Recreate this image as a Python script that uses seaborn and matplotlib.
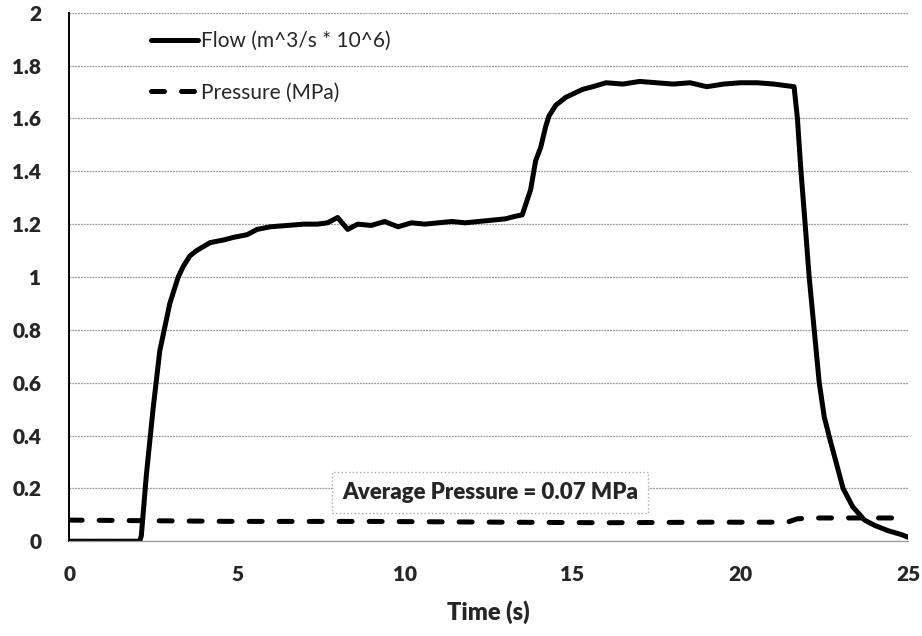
import matplotlib
matplotlib.use("Agg")
import matplotlib.pyplot as plt
import seaborn as sns
import pandas as pd

# ---- data ----
flow_time = [0, 2.1, 2.15, 2.3, 2.5, 2.7, 2.85, 3.0, 3.25, 3.4, 3.6, 3.8, 4.2, 4.6, 4.9,
             5.3, 5.6, 6.0, 6.5, 7.0, 7.4, 7.7, 8.0, 8.3, 8.6, 9.0, 9.4, 9.8, 10.2, 10.6,
             11.0, 11.4, 11.8, 12.2, 12.6, 13.0, 13.3, 13.5, 13.75, 13.9, 14.05, 14.2,
             14.3, 14.5, 14.8, 15.3, 15.6, 16.0, 16.5, 17.0, 17.5, 18.0, 18.5, 19.0, 19.5,
             20.0, 20.5, 21.0, 21.3, 21.6, 21.7, 21.8, 21.93, 22.05, 22.2, 22.35, 22.5,
             22.68, 22.85, 23.06, 23.35, 23.7, 24.0, 24.4, 24.8, 25.0]
flow_value = [0, 0, 0.02, 0.25, 0.5, 0.72, 0.81, 0.9, 1.0, 1.04, 1.08, 1.10, 1.13, 1.14, 1.15,
              1.16, 1.18, 1.19, 1.195, 1.2, 1.2, 1.205, 1.225, 1.18, 1.2, 1.195, 1.21, 1.19,
              1.205, 1.2, 1.205, 1.21, 1.205, 1.21, 1.215, 1.22, 1.23, 1.235, 1.33, 1.44,
              1.49, 1.57, 1.61, 1.65, 1.68, 1.71, 1.72, 1.735, 1.73, 1.74, 1.735, 1.73,
              1.735, 1.72, 1.73, 1.735, 1.735, 1.73, 1.725, 1.72, 1.6, 1.41, 1.2, 1.0, 0.8,
              0.6, 0.47, 0.38, 0.3, 0.2, 0.13, 0.08, 0.06, 0.04, 0.025, 0.015]

pressure_time = [0, 2.0, 5.0, 9.0, 13.0, 16.0, 19.0, 21.4, 21.7, 22.2, 25.0]
pressure_value = [0.08, 0.078, 0.075, 0.075, 0.072, 0.07, 0.072, 0.072, 0.085, 0.088, 0.088]

flow_label = "Flow (m^3/s * 10^6)"
pressure_label = "Pressure (MPa)"
note_text = "Average Pressure = 0.07 MPa"
x_ticks = [0, 5, 10, 15, 20, 25]
y_ticks = [0, 0.2, 0.4, 0.6, 0.8, 1, 1.2, 1.4, 1.6, 1.8, 2]
y_tick_labels = ["0", "0.2", "0.4", "0.6", "0.8", "1", "1.2", "1.4", "1.6", "1.8", "2"]

flow_df = pd.DataFrame({"Time": flow_time, "Value": flow_value})
pres_df = pd.DataFrame({"Time": pressure_time, "Value": pressure_value})

sns.set_style("white")
plt.rcParams["font.family"] = ["Lato", "DejaVu Sans"]

fig = plt.figure(figsize=(9.22, 6.36), dpi=100)
ax = fig.add_axes([0.075, 0.149, 0.910, 0.831])

sns.lineplot(data=flow_df, x="Time", y="Value", ax=ax, color="black", linewidth=3.6,
             label=flow_label, sort=False, estimator=None)
sns.lineplot(data=pres_df, x="Time", y="Value", ax=ax, color="black", linewidth=3.6,
             label=pressure_label, sort=False, estimator=None)
ax.lines[1].set_dashes([2.6, 3.4])
ax.lines[1].set_dash_capstyle("round")

ax.set_xlim(0, 25)
ax.set_ylim(0, 2)
ax.set_xticks(x_ticks)
ax.set_xticklabels([str(v) for v in x_ticks], fontsize=15, fontweight="heavy")
ax.set_yticks(y_ticks)
ax.set_yticklabels(y_tick_labels, fontsize=15, fontweight="heavy")
ax.tick_params(axis="y", length=0, pad=20)
ax.tick_params(axis="x", length=5, width=0.8, color="#888888", direction="out", pad=12)

ax.yaxis.grid(True, color="#9a9a9a", linestyle=(0, (1.5, 0.8)), linewidth=0.9)
ax.xaxis.grid(False)
for s in ["top", "right"]:
    ax.spines[s].set_visible(False)
ax.spines["left"].set_color("black")
ax.spines["left"].set_linewidth(1.4)
ax.spines["bottom"].set_color("#9a9a9a")
ax.spines["bottom"].set_linestyle((0, (1.5, 0.8)))
ax.spines["bottom"].set_linewidth(0.9)

ax.set_xlabel("Time (s)", fontsize=17, fontweight="heavy", labelpad=12)
ax.set_ylabel("")

ax.text(12.55, 0.186, note_text, ha="center", va="center", fontsize=16, fontweight="heavy",
        bbox=dict(facecolor="white", edgecolor="#aaaaaa", linestyle=":", linewidth=1.0,
                  boxstyle="square,pad=0.45"))

leg = ax.legend(loc="upper left", bbox_to_anchor=(0.097, 0.965), frameon=False,
                fontsize=15, handlelength=2.3, handletextpad=0.1, labelspacing=1.5,
                borderaxespad=0, borderpad=0)

fig.savefig("out.png", dpi=100, facecolor="white")
